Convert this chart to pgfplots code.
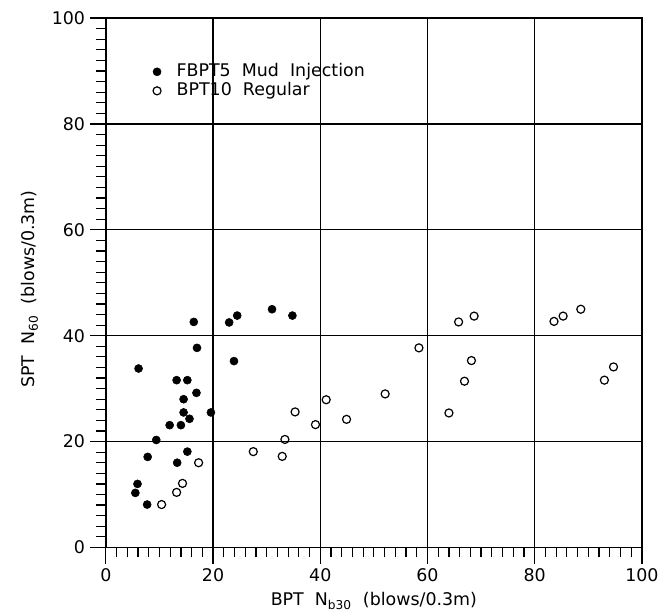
\documentclass[border=0pt]{standalone}
\usepackage{pgfplots}
\pgfplotsset{compat=1.18}
\usepackage{fontspec}
\setmainfont{DejaVu Sans}
\begin{document}
\begin{tikzpicture}
\begin{axis}[
  width=400pt, height=395pt, scale only axis,
  xmin=0, xmax=100, ymin=0, ymax=100,
  xtick={0,20,...,100}, ytick={0,20,...,100},
  minor x tick num=9, minor y tick num=9,
  tick pos=left, tick align=outside,
  major tick length=12pt, minor tick length=7.5pt,
  every tick/.style={black, line width=0.9pt},
  grid=major, major grid style={black, line width=1pt},
  axis line style={line width=1pt},
  /pgf/number format/assume math mode=true,
  tick label style={font=\fontsize{13}{15}\selectfont},
  label style={font=\fontsize{13}{15}\selectfont},
  xlabel={BPT\ \ N\textsubscript{b30}\ \ (blows/0.3m)},
  ylabel={SPT\ \ N\textsubscript{60}\ \ (blows/0.3m)},
  xlabel style={at={(axis description cs:0.5,0)}, anchor=base, yshift=-43.5pt},
  ylabel style={at={(axis description cs:-0.1425,0.488)}, anchor=center},
  legend style={draw=none, fill=none, at={(axis cs:8.75,91.7)}, anchor=north west,
    font=\fontsize{13}{14}\selectfont, row sep=0pt, inner sep=0pt,
    nodes={inner sep=0.6pt, text height=10pt, text depth=3pt}},
  legend cell align=left,
]
\addplot[only marks, mark=*, mark size=3pt, black] coordinates {
(6.1,33.8) (16.4,42.6) (17.0,37.7) (23.0,42.5) (24.5,43.8) (31.0,45.0)
(34.8,43.8) (23.9,35.2) (13.2,31.6) (15.2,31.6) (16.9,29.2) (14.5,28.0)
(14.5,25.5) (15.6,24.3) (19.6,25.5) (11.9,23.1) (14.0,23.1) (9.4,20.3)
(7.8,17.1) (15.2,18.1) (13.3,16.0) (5.9,12.0) (5.5,10.3) (7.7,8.1)
};
\addlegendentry{\hspace{11pt}FBPT5\ \ Mud\ \ Injection}
\addplot[only marks, mark=o, mark size=3pt, black, line width=0.9pt] coordinates {
(10.4,8.1) (13.2,10.4) (14.3,12.1) (17.3,16.0) (27.5,18.1) (32.9,17.2)
(33.4,20.4) (35.3,25.6) (39.1,23.2) (41.1,27.9) (44.9,24.2) (52.1,29.0)
(58.4,37.7) (64.0,25.4) (66.9,31.4) (68.2,35.3) (65.8,42.6) (68.7,43.7)
(83.6,42.7) (85.3,43.7) (88.6,45.0) (94.7,34.1) (93.0,31.6)
};
\addlegendentry{\hspace{11pt}BPT10\ \ Regular}
\end{axis}
\path ([xshift=-79pt,yshift=-49.5pt]current axis.south west) rectangle ([xshift=15.7pt,yshift=13.5pt]current axis.north east);
\end{tikzpicture}
\end{document}
